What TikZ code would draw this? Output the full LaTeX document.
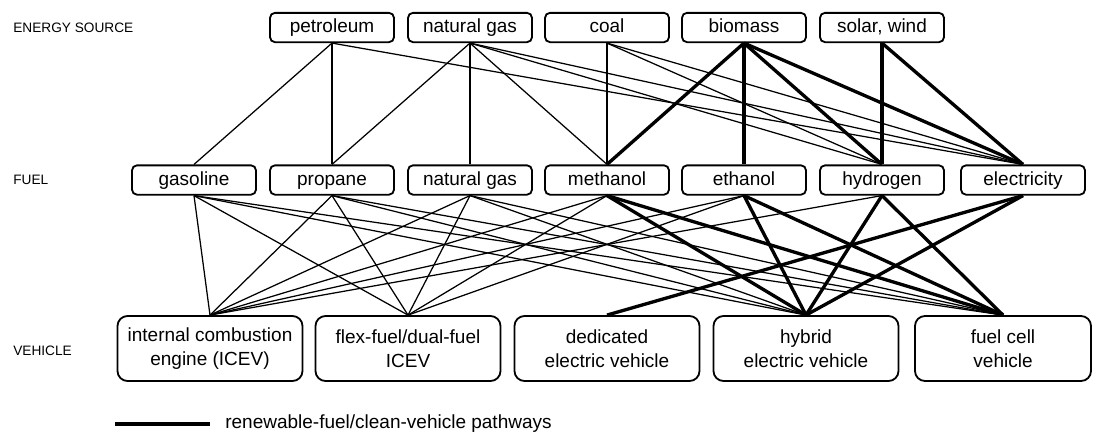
\documentclass[tikz,border=0pt]{standalone}
\usepackage{fontspec}
\setmainfont{Liberation Sans}
\begin{document}
\begin{tikzpicture}[x=0.6pt, y=-0.6pt,
        fbox/.style={draw, line width=1.1pt, rounded corners=3pt, minimum width=74.4pt, minimum height=17.6pt, inner sep=0pt, text height=8.3pt, text depth=2.3pt, font=\fontsize{11.4}{13}\selectfont},
        vbox/.style={draw, line width=1.1pt, rounded corners=6pt, minimum width=111pt, minimum height=39pt, inner sep=0pt, align=center, font=\fontsize{11.4}{14.4}\selectfont},
        rowlabel/.style={anchor=west, inner sep=0pt, font=\fontsize{8.2}{9.7}\selectfont},
        pathway/.style={line width=0.75pt},
        cleanway/.style={line width=2pt}]
        \useasboundingbox (0,0) rectangle (1093,431);

        \node [rowlabel] (srclabel) at (13,28) {ENERGY SOURCE};
        \node [rowlabel] (fuellabel) at (13,180) {FUEL};
        \node [rowlabel] (vehlabel) at (13,351) {VEHICLE};

        \node [fbox] (petro) at (332,27.5) {petroleum};
        \node [fbox] (ngas) at (470,27.5) {natural gas};
        \node [fbox] (coal) at (607,27.5) {coal};
        \node [fbox] (biomass) at (744,27.5) {biomass};
        \node [fbox] (solar) at (882,27.5) {solar, wind};

        \node [fbox] (gasoline) at (194,180) {gasoline};
        \node [fbox] (propane) at (332,180) {propane};
        \node [fbox] (cng) at (470,180) {natural gas};
        \node [fbox] (methanol) at (607,180) {methanol};
        \node [fbox] (ethanol) at (744,180) {ethanol};
        \node [fbox] (hydrogen) at (882,180) {hydrogen};
        \node [fbox] (elec) at (1023,180) {electricity};

        \node [vbox] (icev) at (210,348.5) {internal combustion\\engine (ICEV)};
        \node [vbox] (flex) at (408,348.5) {flex-fuel/dual-fuel\\ICEV};
        \node [vbox] (ev) at (607,348.5) {dedicated\\electric vehicle};
        \node [vbox] (hev) at (806,348.5) {hybrid\\electric vehicle};
        \node [vbox, minimum width=105.6pt] (fcv) at (1003,348.5) {fuel cell\\vehicle};

        \draw [pathway] (petro.south) -- (gasoline.north);
        \draw [pathway] (petro.south) -- (propane.north);
        \draw [pathway] (petro.south) -- (elec.north);
        \draw [pathway] (ngas.south) -- (propane.north);
        \draw [pathway] (ngas.south) -- (cng.north);
        \draw [pathway] (ngas.south) -- (methanol.north);
        \draw [pathway] (ngas.south) -- (hydrogen.north);
        \draw [pathway] (ngas.south) -- (elec.north);
        \draw [pathway] (coal.south) -- (methanol.north);
        \draw [pathway] (coal.south) -- (hydrogen.north);
        \draw [pathway] (coal.south) -- (elec.north);
        \draw [cleanway] (biomass.south) -- (methanol.north);
        \draw [cleanway] (biomass.south) -- (ethanol.north);
        \draw [cleanway] (biomass.south) -- (hydrogen.north);
        \draw [cleanway] (biomass.south) -- (elec.north);
        \draw [cleanway] (solar.south) -- (hydrogen.north);
        \draw [cleanway] (solar.south) -- (elec.north);

        \draw [pathway] (gasoline.south) -- (icev.north);
        \draw [pathway] (gasoline.south) -- (flex.north);
        \draw [pathway] (gasoline.south) -- (hev.north);
        \draw [pathway] (gasoline.south) -- (fcv.north);
        \draw [pathway] (propane.south) -- (icev.north);
        \draw [pathway] (propane.south) -- (flex.north);
        \draw [pathway] (propane.south) -- (hev.north);
        \draw [pathway] (propane.south) -- (fcv.north);
        \draw [pathway] (cng.south) -- (icev.north);
        \draw [pathway] (cng.south) -- (flex.north);
        \draw [pathway] (cng.south) -- (hev.north);
        \draw [pathway] (cng.south) -- (fcv.north);
        \draw [pathway] (methanol.south) -- (icev.north);
        \draw [pathway] (methanol.south) -- (flex.north);
        \draw [pathway] (ethanol.south) -- (icev.north);
        \draw [pathway] (ethanol.south) -- (flex.north);
        \draw [pathway] (hydrogen.south) -- (icev.north);
        \draw [cleanway] (methanol.south) -- (hev.north);
        \draw [cleanway] (methanol.south) -- (fcv.north);
        \draw [cleanway] (ethanol.south) -- (hev.north);
        \draw [cleanway] (ethanol.south) -- (fcv.north);
        \draw [cleanway] (hydrogen.south) -- (hev.north);
        \draw [cleanway] (hydrogen.south) -- (fcv.north);
        \draw [cleanway] (elec.south) -- (ev.north);
        \draw [cleanway] (elec.south) -- (hev.north);

        \coordinate (legA) at (115,424);
        \coordinate (legB) at (210,424);
        \draw [cleanway, line width=2.4pt] (legA) -- (legB);
        \node [anchor=west, inner sep=0pt, font=\fontsize{11.4}{13}\selectfont] (legend) at (225,424) {renewable-fuel/clean-vehicle pathways};
\end{tikzpicture}
\end{document}
